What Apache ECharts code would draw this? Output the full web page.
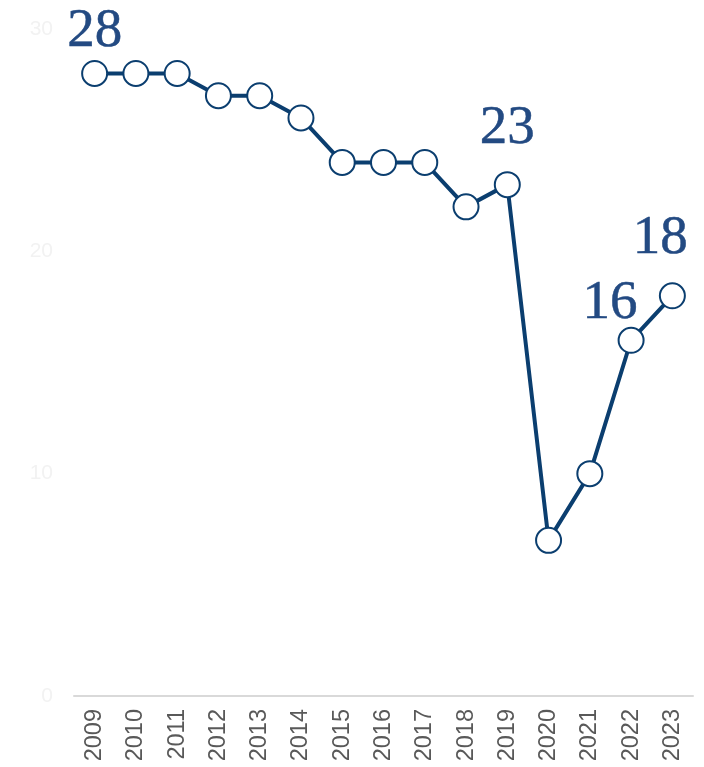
<!DOCTYPE html>
<html>
<head>
<meta charset="utf-8">
<script src="https://cdn.jsdelivr.net/npm/echarts@6/dist/echarts.min.js"></script>
<style>
  html, body { margin: 0; padding: 0; background: #fff; }
  #chart { width: 704px; height: 767px; }
</style>
</head>
<body>
<div id="chart"></div>
<script>
  var years = ['2009', '2010', '2011', '2012', '2013', '2014', '2015', '2016',
    '2017', '2018', '2019', '2020', '2021', '2022', '2023'];
  var values = [28, 28, 28, 27, 27, 26, 24, 24, 24, 22, 23, 7, 10, 16, 18];
  var yTicks = [0, 10, 20, 30];
  // which points carry a big number
  var labelled = ['2009', '2019', '2022', '2023'];

  var labelOffsets = {
    '2009': [0, 4],
    '2019': [0, -10],
    '2022': [-21, 9],
    '2023': [-12, -11]
  };

  var seriesData = values.map(function (v, i) {
    var item = {value: v};
    if (labelled.indexOf(years[i]) >= 0) {
      item.label = {
        show: true,
        position: 'top',
        distance: 5,
        offset: labelOffsets[years[i]],
        formatter: '{c}',
        fontFamily: 'Liberation Serif',
        fontSize: 55,
        color: '#234a82',
        textBorderColor: '#234a82',
        textBorderWidth: 0.5
      };
    }
    return item;
  });

  var myChart = echarts.init(document.getElementById('chart'));
  myChart.setOption({
    animation: false,
    grid: {
      left: 74,
      right: 11,
      top: 29,
      bottom: 71
    },
    xAxis: {
      type: 'category',
      data: years,
      boundaryGap: true,
      axisLine: {
        lineStyle: {color: '#d9d9d9', width: 2}
      },
      axisTick: {show: false},
      axisLabel: {
        rotate: 90,
        margin: 13,
        color: '#595959',
        fontSize: 23.5,
        fontFamily: 'Liberation Sans',
        interval: 0
      }
    },
    yAxis: {
      type: 'value',
      min: yTicks[0],
      max: yTicks[yTicks.length - 1],
      interval: 10,
      splitLine: {show: false},
      axisLine: {show: false},
      axisTick: {show: false},
      axisLabel: {
        color: '#f2f2f2',
        fontSize: 21,
        margin: 21,
        fontFamily: 'Liberation Sans'
      }
    },
    series: [{
      type: 'line',
      data: seriesData,
      symbol: 'circle',
      symbolSize: 25,
      lineStyle: {color: '#0b3e6f', width: 4},
      itemStyle: {color: '#ffffff', borderColor: '#0b3e6f', borderWidth: 2},
      label: {show: false},
      z: 3
    }]
  });
</script>
</body>
</html>
